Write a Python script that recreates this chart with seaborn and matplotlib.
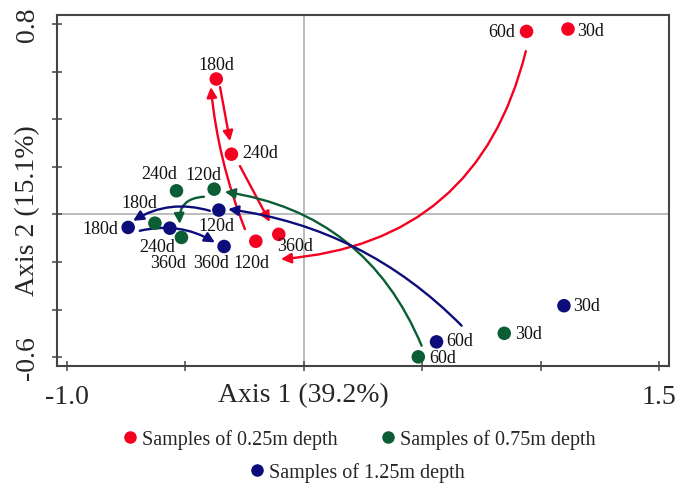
import matplotlib
matplotlib.use("Agg")
import matplotlib.pyplot as plt
from matplotlib.lines import Line2D
import seaborn as sns
import pandas as pd

# sample scores
groups = ["Samples of 0.25m depth", "Samples of 0.75m depth", "Samples of 1.25m depth"]
colors = ["#f40020", "#0b5d35", "#0c0c7a"]

days_red = ["30d", "60d", "120d", "180d", "240d", "360d"]
x_red = [1.116, 0.941, -0.202, -0.369, -0.305, -0.105]
y_red = [0.779, 0.769, -0.113, 0.569, 0.253, -0.084]

days_green = ["30d", "60d", "120d", "180d", "240d", "360d"]
x_green = [0.847, 0.484, -0.378, -0.628, -0.537, -0.516]
y_green = [-0.500, -0.599, 0.106, -0.037, 0.099, -0.097]

days_blue = ["30d", "60d", "120d", "180d", "240d", "360d"]
x_blue = [1.099, 0.561, -0.358, -0.741, -0.565, -0.336]
y_blue = [-0.384, -0.536, 0.018, -0.055, -0.058, -0.135]

# label offsets (pixels) for each point
off_red = [(23, -1), (-25, 0), (-4, -21), (0, 15), (29, 2), (16, -11)]
off_green = [(24, 0), (24, -1), (-11, 15), (-16, 21), (-17, 17), (-13, -25)]
off_blue = [(23, 0), (23, 1), (-2, -15), (-28, -1), (-13, -18), (-13, -16)]

# trajectory arrows: group index, start, end, curvature
arrows = [
    (0, (0.938, 0.686), (-0.096, -0.188), -0.36),
    (0, (-0.248, -0.062), (-0.392, 0.535), -0.07),
    (0, (-0.353, 0.535), (-0.311, 0.308), 0.0),
    (0, (-0.269, 0.203), (-0.143, -0.032), 0.0),
    (1, (0.498, -0.552), (-0.333, 0.095), 0.28),
    (1, (-0.421, 0.074), (-0.523, -0.040), 0.5),
    (2, (0.667, -0.468), (-0.319, 0.022), 0.17),
    (2, (-0.396, 0.015), (-0.720, -0.027), 0.22),
    (2, (-0.692, -0.069), (-0.375, -0.118), -0.2),
]

df = pd.concat([
    pd.DataFrame({"x": x_red, "y": y_red, "day": days_red, "group": groups[0]}),
    pd.DataFrame({"x": x_green, "y": y_green, "day": days_green, "group": groups[1]}),
    pd.DataFrame({"x": x_blue, "y": y_blue, "day": days_blue, "group": groups[2]}),
], ignore_index=True)
offsets = off_red + off_green + off_blue

sns.set_style("white")
plt.rcParams["font.family"] = ["Liberation Serif", "DejaVu Serif"]

fig = plt.figure(figsize=(6.77, 4.85), dpi=100)
ax = fig.add_axes([0.084, 0.243, 0.904, 0.724])

ax.axhline(0, color="#a8a8a8", lw=1.1, zorder=0)
ax.axvline(0, color="#a8a8a8", lw=1.1, zorder=0)

sns.scatterplot(data=df, x="x", y="y", hue="group", palette=colors,
                s=95, linewidth=0, legend=False, ax=ax, zorder=3)

for (_, row), (dx, dy) in zip(df.iterrows(), offsets):
    ax.annotate(row["day"], (row["x"], row["y"]), xytext=(dx, dy),
                textcoords="offset pixels", ha="center", va="center",
                fontsize=13, color="#111111")

for g, start, end, rad in arrows:
    ax.annotate("", xy=end, xytext=start,
                arrowprops=dict(arrowstyle="-|>", color=colors[g], lw=1.7,
                                mutation_scale=15, shrinkA=0, shrinkB=0,
                                connectionstyle=f"arc3,rad={rad}"),
                zorder=2)

ax.set_xlim(-1.042, 1.542)
ax.set_ylim(-0.638, 0.838)
ax.set_xticks([-1.0, -0.5, 0.0, 0.5, 1.0, 1.5])
ax.set_xticklabels(["-1.0", "", "", "", "", "1.5"])
ax.set_yticks([-0.6, -0.4, -0.2, 0.0, 0.2, 0.4, 0.6, 0.8])
ax.set_yticklabels(["-0.6", "", "", "", "", "", "", "0.8"], rotation=90, va="center")
ax.tick_params(direction="inout", length=7, width=1.1, color="#444444",
               labelsize=20, pad=9, left=True, bottom=True)
for side in ["left", "bottom", "top", "right"]:
    ax.spines[side].set_color("#444444")
    ax.spines[side].set_linewidth(1.5)

ax.set_xlabel("Axis 1 (39.2%)", fontsize=20)
ax.set_ylabel("Axis 2 (15.1%)", fontsize=20)
ax.xaxis.set_label_coords(0.403, -0.046)
ax.yaxis.set_label_coords(-0.028, 0.447)

handles = [Line2D([], [], marker="o", ls="", color=c, markersize=8) for c in colors]
fig.legend(handles[:2], groups[:2], ncol=2, loc="center", bbox_to_anchor=(0.532, 0.093),
           frameon=False, fontsize=14.5, handlelength=0.6, handletextpad=0.3,
           columnspacing=2.2)
fig.legend(handles[2:], groups[2:], loc="center", bbox_to_anchor=(0.528, 0.025),
           frameon=False, fontsize=14.5, handlelength=0.6, handletextpad=0.3)

fig.savefig("out.png", dpi=100)
